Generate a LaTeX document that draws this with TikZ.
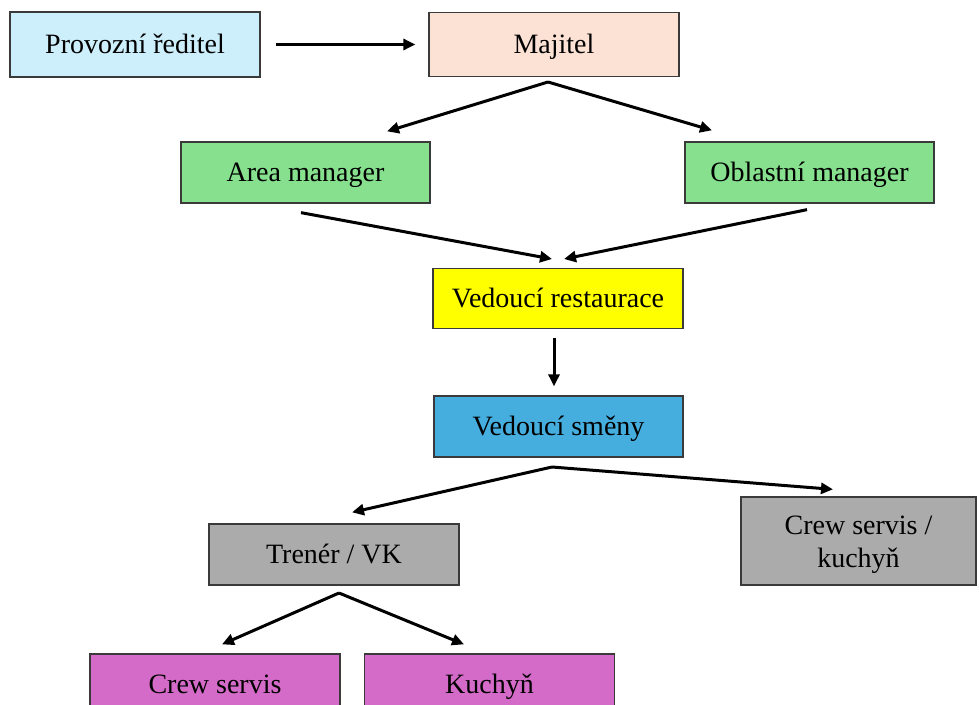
\documentclass[tikz,border=0pt]{standalone}
\usepackage{fontspec}
\setmainfont{Liberation Serif}
\usetikzlibrary{arrows.meta}

\definecolor{cPed}{HTML}{CDEEFB}
\definecolor{cMaj}{HTML}{FCE1D5}
\definecolor{cGreen}{HTML}{86E08E}
\definecolor{cYellow}{HTML}{FFFF00}
\definecolor{cBlue}{HTML}{45AEDF}
\definecolor{cGray}{HTML}{ABABAB}
\definecolor{cPink}{HTML}{D56BC8}
\definecolor{cEdge}{HTML}{3A3A3A}

\tikzset{
  basebox/.style={draw=cEdge, line width=1.3pt, minimum width=250pt, minimum height=62pt,
    inner sep=0pt, align=center, font=\fontsize{28}{33}\selectfont},
  box/.style={basebox, text height=23.5pt, text depth=6pt},
  arr/.style={line width=3pt, -{Triangle[length=12pt,width=11pt]}}
}

\begin{document}
\begin{tikzpicture}[x=1pt, y=-1pt]
  \clip (0,0) rectangle (979,704);
  \fill[white] (0,0) rectangle (979,704);

  % organisation boxes
  \node[box, fill=cPed, minimum height=65pt]  (ped)  at (135,44.5)   {Provozní ředitel};
  \node[box, fill=cMaj, minimum height=64pt]  (maj)  at (554,44.5)   {Majitel};
  \node[box, fill=cGreen, minimum height=61pt, minimum width=249pt] (area) at (305.5,172.5) {Area manager};
  \node[box, fill=cGreen, minimum height=61pt, minimum width=249pt] (obl)  at (809.5,172.5) {Oblastní manager};
  \node[box, fill=cYellow, minimum height=60pt] (vr)  at (558,298.5)  {Vedoucí restaurace};
  \node[box, fill=cBlue, minimum height=61pt, minimum width=249pt] (vs) at (558.5,426.5) {Vedoucí směny};
  \node[box, fill=cGray, minimum height=61pt] (tre)  at (334,554.5)  {Trenér / VK};
  \node[basebox, fill=cGray, minimum height=88pt, minimum width=235pt] (crew) at (858.5,541)
    {\rule{0pt}{27pt}Crew servis /\\kuchyň};
  \node[box, fill=cPink] (cs) at (215,685)   {Crew servis};
  \node[box, fill=cPink] (ku) at (489.5,685) {Kuchyň};

  % branching points under the boxes
  \coordinate (majFork) at (548,82);
  \coordinate (vsFork)  at (552,467);
  \coordinate (treFork) at (339,593);
  \coordinate (vrIn)    at (558,259);

  % connectors
  \draw[arr] ([xshift=15pt]ped.east) -- ([xshift=-13pt]maj.west);

  \draw[arr] (majFork) -- ([xshift=81.5pt,yshift=10pt]area.north);
  \draw[arr] (majFork) -- ([xshift=-97.5pt,yshift=11pt]obl.north);

  \draw[arr] ([xshift=-4.5pt,yshift=-9pt]area.south) -- ([xshift=-6pt]vrIn);
  \draw[arr] ([xshift=-2.5pt,yshift=-6pt]obl.south)  -- ([xshift=6pt]vrIn);

  \draw[arr] ([xshift=-4pt,yshift=-8.5pt]vr.south) -- ([xshift=-4.5pt,yshift=9pt]vs.north);

  \draw[arr] (vsFork) -- ([xshift=18pt,yshift=11pt]tre.north);
  \draw[arr] (vsFork) -- ([xshift=-25.5pt,yshift=7pt]crew.north);

  \draw[arr] (treFork) -- ([xshift=7pt,yshift=9pt]cs.north);
  \draw[arr] (treFork) -- ([xshift=-25.5pt,yshift=9pt]ku.north);
\end{tikzpicture}
\end{document}
